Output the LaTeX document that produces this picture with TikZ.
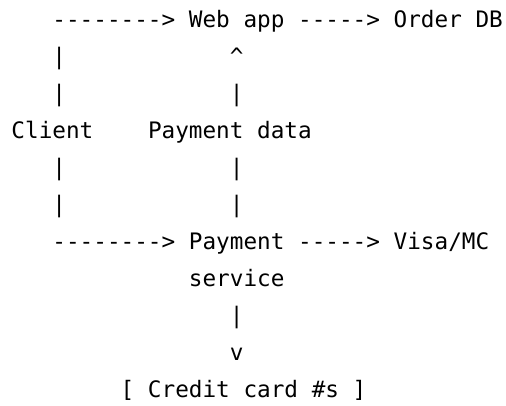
\documentclass[tikz,border=0pt]{standalone}
\usepackage{fontspec}
\newfontfamily\asciifont{DejaVu Sans Mono}
\usetikzlibrary{positioning}
\tikzset{
    ascii/.style={font=\asciifont\fontsize{22.67}{27}\selectfont, inner sep=0pt, outer sep=0pt, anchor=base west}, % every piece of text
}

\begin{document}
\begin{tikzpicture}
                [x=13.65pt, y=-37pt]
                \useasboundingbox (-11.5pt,27pt) rectangle (494.5pt,-378pt);
                % Blocchi
                \node[ascii] (client) at (0,3) {Client};
                \node[ascii] (webapp) at (13,0) {Web app};
                \node[ascii] (orderdb) at (28,0) {Order DB};
                \node[ascii] (paydata) at (10,3) {Payment data};
                \node[ascii] (payment) at (13,6) {Payment};
                \node[ascii] (service) at (13,7) {service};
                \node[ascii] (visamc) at (28,6) {Visa/MC};
                \node[ascii] (cards) at (8,10) {[ Credit card \#s ]};

                % Frecce
                \node[ascii] (cweb) at (3,0) {-{}-{}-{}-{}-{}-{}-{}->};
                \node[ascii] (worder) at (21,0) {-{}-{}-{}-{}->};
                \node[ascii] (cpay) at (3,6) {-{}-{}-{}-{}-{}-{}-{}->};
                \node[ascii] (pvisa) at (21,6) {-{}-{}-{}-{}->};
                \foreach \r in {1,2,4,5}
                    \node[ascii] (cbar\r) at (3,\r) {|};
                \node[ascii] (dhead) at (16,1) {\textasciicircum};
                \foreach \r in {2,4,5,8}
                    \node[ascii] (dbar\r) at (16,\r) {|};
                \node[ascii] (chead) at (16,9) {v};
            \end{tikzpicture}
\end{document}
